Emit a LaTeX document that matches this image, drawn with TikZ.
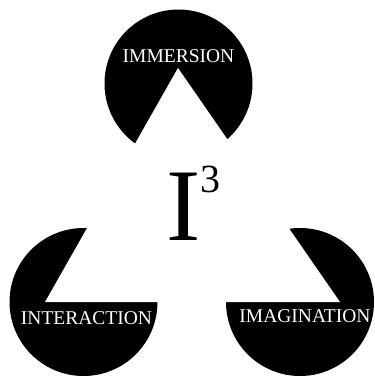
\documentclass[tikz,border=0pt]{standalone}
\usepackage{fontspec}
\setmainfont{Liberation Serif}
\begin{document}
\begin{tikzpicture}[x=1pt,y=-1pt,
  pac/.style={fill=black},
  lbl/.style={text=white,font=\fontsize{19.5}{20}\selectfont,inner sep=0pt,anchor=base}]
\useasboundingbox (0,0) rectangle (375,378);
% pac-man discs
\fill[pac] (178.5,83.5) circle[radius=74];
\fill[pac] (83.5,302) circle[radius=74];
\fill[pac] (300,302) circle[radius=74];
% illusory triangle cut
\fill[white] (178,68) -- (45,302) -- (340,302) -- cycle;
% labels
\node[lbl] (imm) at (178.5,62) {IMMERSION};
\node[lbl] (int) at (86.5,324) {INTERACTION};
\node[lbl] (ima) at (305,322) {IMAGINATION};
\node[inner sep=0pt,anchor=base west,font=\fontsize{103}{103}\selectfont] (i3) at (166,240)
  {I\raisebox{48pt}{\fontsize{40}{40}\selectfont 3}};
\end{tikzpicture}
\end{document}
